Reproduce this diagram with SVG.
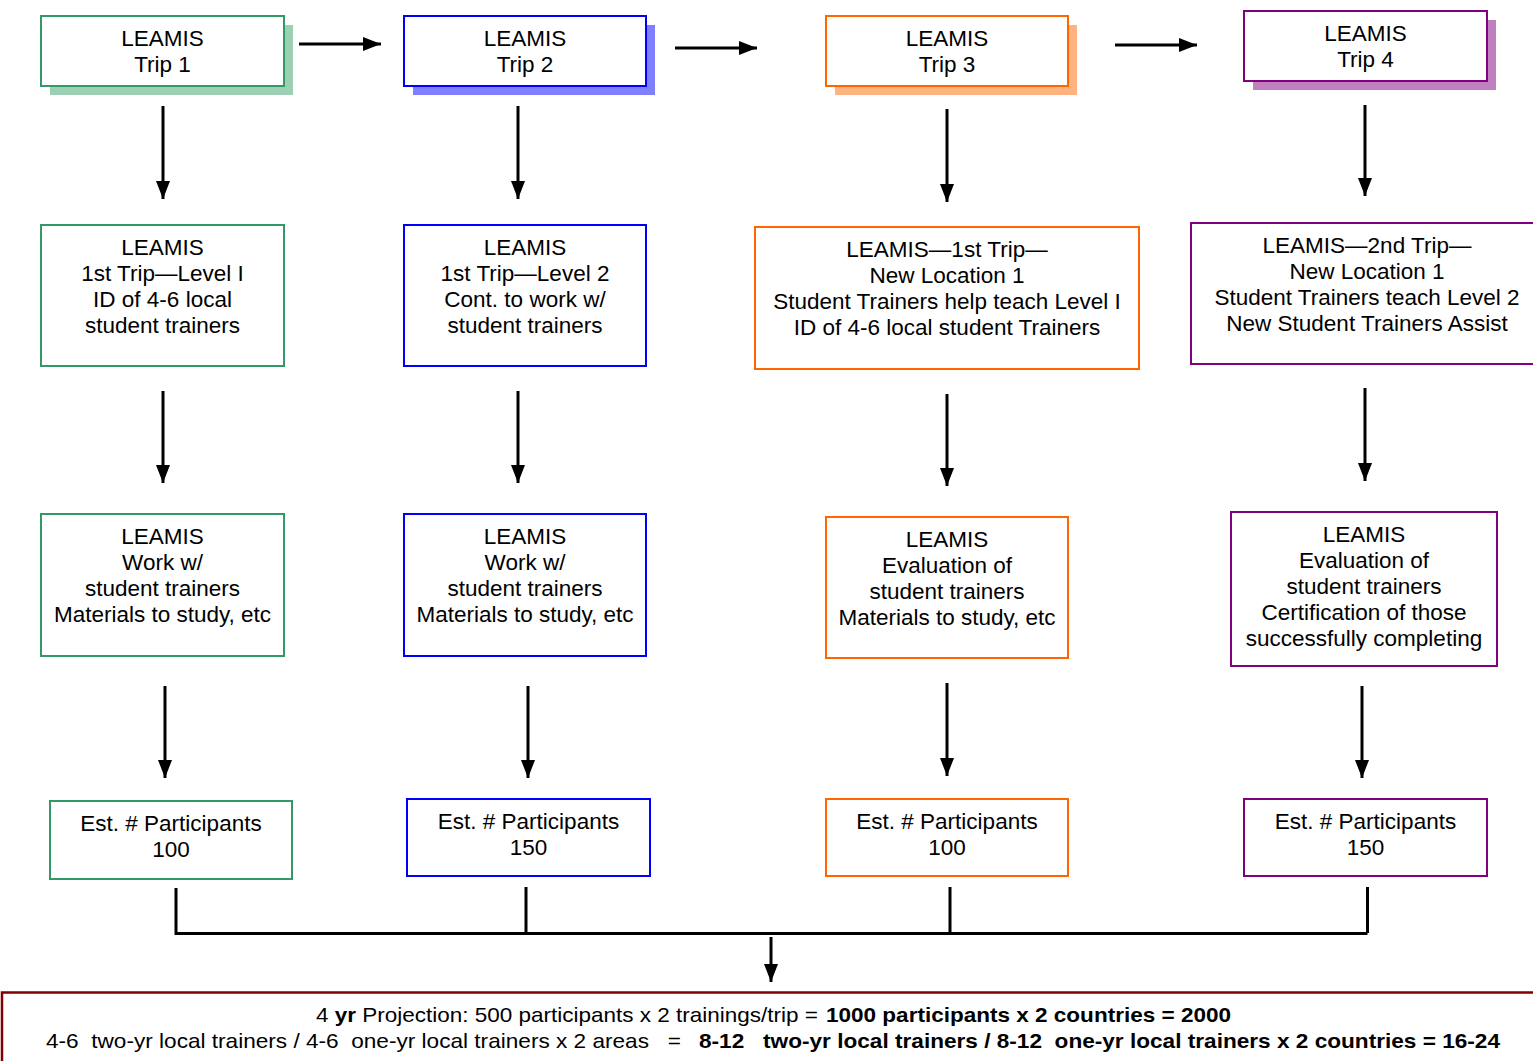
<svg xmlns="http://www.w3.org/2000/svg" width="1533" height="1061" viewBox="0 0 1533 1061">
<defs>
<marker id="ah" markerUnits="userSpaceOnUse" markerWidth="19" markerHeight="15" refX="18" refY="7" orient="auto">
<path d="M0,0 L18,7 L0,14 Z" fill="#000"/>
</marker>
<style>
text{font-family:"Liberation Sans",Arial,sans-serif;font-size:22.5px;fill:#000;text-anchor:middle}
.g{fill:#fff;stroke:#339966;stroke-width:2}
.b{fill:#fff;stroke:#0000ff;stroke-width:2}
.o{fill:#fff;stroke:#ff6600;stroke-width:2}
.p{fill:#fff;stroke:#800080;stroke-width:2}
.c{stroke:#000;stroke-width:3;fill:none}
.a{stroke:#000;stroke-width:3;fill:none;marker-end:url(#ah)}
.ft{font-size:21px;text-anchor:start;white-space:pre}
.bd{font-weight:bold}
</style>
</defs>
<rect width="1533" height="1061" fill="#fff"/>

<g id="trip1">
<rect x="50" y="25" width="243" height="70" fill="#9ccfb3"/>
<rect class="g" x="41" y="16" width="243" height="70"/>
<text x="162.5" y="46">LEAMIS</text><text x="162.5" y="72">Trip 1</text>
</g>
<g id="trip2">
<rect x="413" y="25" width="242" height="70" fill="#8080ff"/>
<rect class="b" x="404" y="16" width="242" height="70"/>
<text x="525" y="46">LEAMIS</text><text x="525" y="72">Trip 2</text>
</g>
<g id="trip3">
<rect x="835" y="25" width="242" height="70" fill="#ffb380"/>
<rect class="o" x="826" y="16" width="242" height="70"/>
<text x="947" y="46">LEAMIS</text><text x="947" y="72">Trip 3</text>
</g>
<g id="trip4">
<rect x="1253" y="20" width="243" height="70" fill="#c080c0"/>
<rect class="p" x="1244" y="11" width="243" height="70"/>
<text x="1365.5" y="41">LEAMIS</text><text x="1365.5" y="67">Trip 4</text>
</g>

<g id="level1">
<rect class="g" x="41" y="225" width="243" height="141"/>
<text x="162.5" y="255">LEAMIS</text>
<text x="162.5" y="281">1st Trip—Level I</text>
<text x="162.5" y="307">ID of 4-6 local</text>
<text x="162.5" y="333">student trainers</text>
</g>
<g id="level2">
<rect class="b" x="404" y="225" width="242" height="141"/>
<text x="525" y="255">LEAMIS</text>
<text x="525" y="281">1st Trip—Level 2</text>
<text x="525" y="307">Cont. to work w/</text>
<text x="525" y="333">student trainers</text>
</g>
<g id="loc1trip1">
<rect class="o" x="755" y="227" width="384" height="142"/>
<text x="947" y="257">LEAMIS—1st Trip—</text>
<text x="947" y="283">New Location 1</text>
<text x="947" y="309">Student Trainers help teach Level I</text>
<text x="947" y="335">ID of 4-6 local student Trainers</text>
</g>
<g id="loc1trip2">
<rect class="p" x="1191" y="223" width="350" height="141"/>
<text x="1367" y="253">LEAMIS—2nd Trip—</text>
<text x="1367" y="279">New Location 1</text>
<text x="1367" y="305">Student Trainers teach Level 2</text>
<text x="1367" y="331">New Student Trainers Assist</text>
</g>

<g id="work1">
<rect class="g" x="41" y="514" width="243" height="142"/>
<text x="162.5" y="544">LEAMIS</text>
<text x="162.5" y="570">Work w/</text>
<text x="162.5" y="596">student trainers</text>
<text x="162.5" y="622">Materials to study, etc</text>
</g>
<g id="work2">
<rect class="b" x="404" y="514" width="242" height="142"/>
<text x="525" y="544">LEAMIS</text>
<text x="525" y="570">Work w/</text>
<text x="525" y="596">student trainers</text>
<text x="525" y="622">Materials to study, etc</text>
</g>
<g id="eval3">
<rect class="o" x="826" y="517" width="242" height="141"/>
<text x="947" y="547">LEAMIS</text>
<text x="947" y="573">Evaluation of</text>
<text x="947" y="599">student trainers</text>
<text x="947" y="625">Materials to study, etc</text>
</g>
<g id="eval4">
<rect class="p" x="1231" y="512" width="266" height="154"/>
<text x="1364" y="542">LEAMIS</text>
<text x="1364" y="568">Evaluation of</text>
<text x="1364" y="594">student trainers</text>
<text x="1364" y="620">Certification of those</text>
<text x="1364" y="646">successfully completing</text>
</g>

<g id="est1">
<rect class="g" x="50" y="801" width="242" height="78"/>
<text x="171" y="831">Est. # Participants</text>
<text x="171" y="857">100</text>
</g>
<g id="est2">
<rect class="b" x="407" y="799" width="243" height="77"/>
<text x="528.5" y="829">Est. # Participants</text>
<text x="528.5" y="855">150</text>
</g>
<g id="est3">
<rect class="o" x="826" y="799" width="242" height="77"/>
<text x="947" y="829">Est. # Participants</text>
<text x="947" y="855">100</text>
</g>
<g id="est4">
<rect class="p" x="1244" y="799" width="243" height="77"/>
<text x="1365.5" y="829">Est. # Participants</text>
<text x="1365.5" y="855">150</text>
</g>

<g id="projection">
<path d="M2,1061 V992.5 H1533" fill="none" stroke="#800000" stroke-width="2.5"/>
<text class="ft" x="316" y="1022" textLength="502" lengthAdjust="spacingAndGlyphs">4 <tspan class="bd">yr</tspan> Projection: 500 participants x 2 trainings/trip =</text>
<text class="ft bd" x="826" y="1022" textLength="405" lengthAdjust="spacingAndGlyphs">1000 participants x 2 countries = 2000</text>
<text class="ft" x="46" y="1048" textLength="635" lengthAdjust="spacingAndGlyphs">4-6  two-yr local trainers / 4-6  one-yr local trainers x 2 areas   =</text>
<text class="ft bd" x="699" y="1048" textLength="801" lengthAdjust="spacingAndGlyphs">8-12   two-yr local trainers / 8-12  one-yr local trainers x 2 countries = 16-24</text>
</g>

<g id="connectors">
<path class="a" d="M299,44 H381"/>
<path class="a" d="M675,48 H757"/>
<path class="a" d="M1115,45 H1197"/>
<path class="a" d="M163,106 V199"/>
<path class="a" d="M518,106 V199"/>
<path class="a" d="M947,109 V202"/>
<path class="a" d="M1365,105 V196"/>
<path class="a" d="M163,391 V483"/>
<path class="a" d="M518,391 V483"/>
<path class="a" d="M947,394 V486"/>
<path class="a" d="M1365,388 V481"/>
<path class="a" d="M165,686 V778"/>
<path class="a" d="M528,686 V778"/>
<path class="a" d="M947,683 V776"/>
<path class="a" d="M1362,686 V778"/>
<path class="c" d="M176,888 V933.5 H1367.5 M526,887 V933 M950,887 V933 M1367.5,887 V933"/>
<path class="a" d="M771,937 V982"/>
</g>
</svg>
